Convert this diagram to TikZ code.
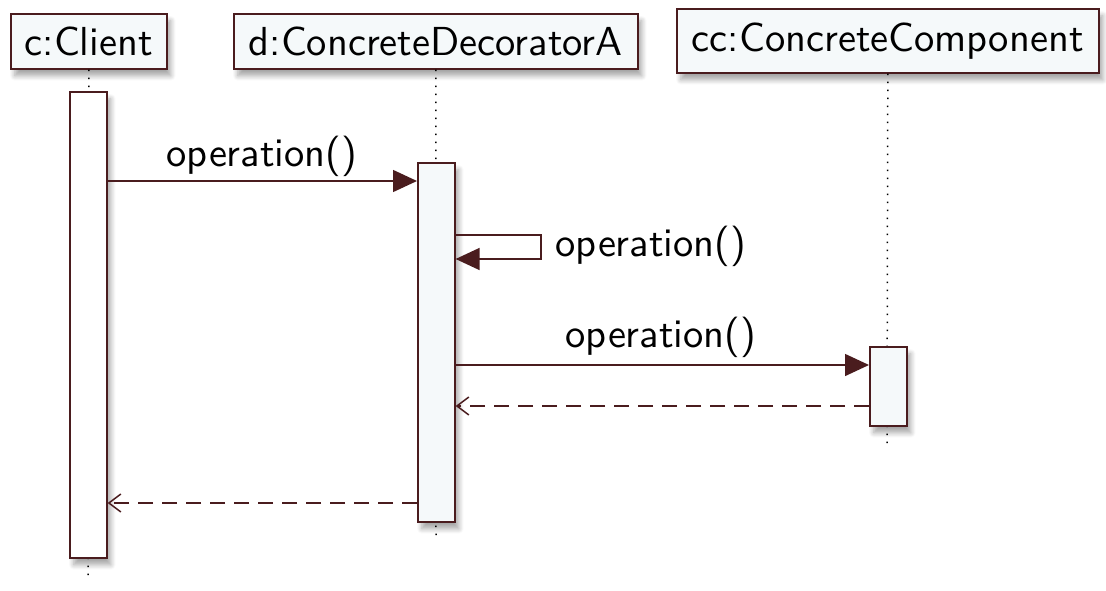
\documentclass[tikz,border=0pt]{standalone}
\usepackage{fontspec}
\newfontfamily\lmsten{lmsans10-regular.otf}
\usetikzlibrary{arrows.meta,shadows.blur}
\definecolor{edge}{HTML}{4A1C1E}
\definecolor{boxfill}{HTML}{F5F9FA}
\tikzset{
  x=1pt, y=-1pt,
  every node/.style={font=\lmsten\fontsize{40.5}{42}\selectfont},
  shad/.style={blur shadow={shadow xshift=4pt, shadow yshift=-7pt, shadow blur steps=8, shadow opacity=35, shadow blur radius=5pt}},
  hdr/.style={draw=edge, line width=1.6pt, fill=boxfill, shad, inner sep=0pt, anchor=north west},
  bar/.style={draw=edge, line width=1.6pt, fill=boxfill, shad, inner sep=0pt, anchor=north west, minimum width=37pt},
  life/.style={line width=1.5pt, dash pattern=on 1.5pt off 6.5pt, black},
  msg/.style={draw=edge, line width=1.5pt, -{Triangle[length=24pt,width=22pt]}},
  ret/.style={draw=edge, line width=1.5pt, dash pattern=on 15pt off 9pt, -{Straight Barb[length=12pt,width=18pt,line width=1.5pt]}},
  lbl/.style={inner sep=0pt, text=black}
}
\begin{document}
\begin{tikzpicture}
\useasboundingbox (0,0) rectangle (1106,591);
% headers
\node[hdr, minimum width=156pt, minimum height=55pt] (c) at (10,13) {c:Client};
\node[hdr, minimum width=404pt, minimum height=55pt] (d) at (233,13) {d:ConcreteDecoratorA};
\node[hdr, minimum width=422pt, minimum height=64pt] (cc) at (676,8) {cc:ConcreteComponent};
% lifeline ends
\coordinate (cend) at (88,578);
\coordinate (dend) at (436,540);
\coordinate (ccend) at (887,445);
\draw[life] (c.south) -- (cend);
\draw[life] (d.south) -- (dend);
\draw[life] (cc.south) -- (ccend);
% activation bars
\node[bar, minimum height=466pt, fill=white] (ca) at (69,91) {};
\node[bar, minimum height=359pt] (da) at (417,162) {};
\node[bar, minimum height=79pt] (cca) at (869,346) {};
% message rows
\coordinate (y1) at (0,181);
\coordinate (y2) at (0,235);
\coordinate (y3) at (0,259);
\coordinate (y4) at (0,365);
\coordinate (y5) at (0,406);
\coordinate (y6) at (0,503);
\coordinate (sx) at (541,0);
% messages
\draw[msg] (ca.east |- y1) -- (da.west |- y1);
\node[lbl] (l1) at (262,156) {operation()};
\draw[msg] (da.east |- y2) -- (sx |- y2) -- (sx |- y3) -- (da.east |- y3);
\node[lbl] (l2) at (651,246) {operation()};
\draw[msg] (da.east |- y4) -- (cca.west |- y4);
\node[lbl] (l3) at (661,337) {operation()};
\draw[ret] (cca.west |- y5) -- (da.east |- y5);
\draw[ret] (da.west |- y6) -- (ca.east |- y6);
\end{tikzpicture}
\end{document}
